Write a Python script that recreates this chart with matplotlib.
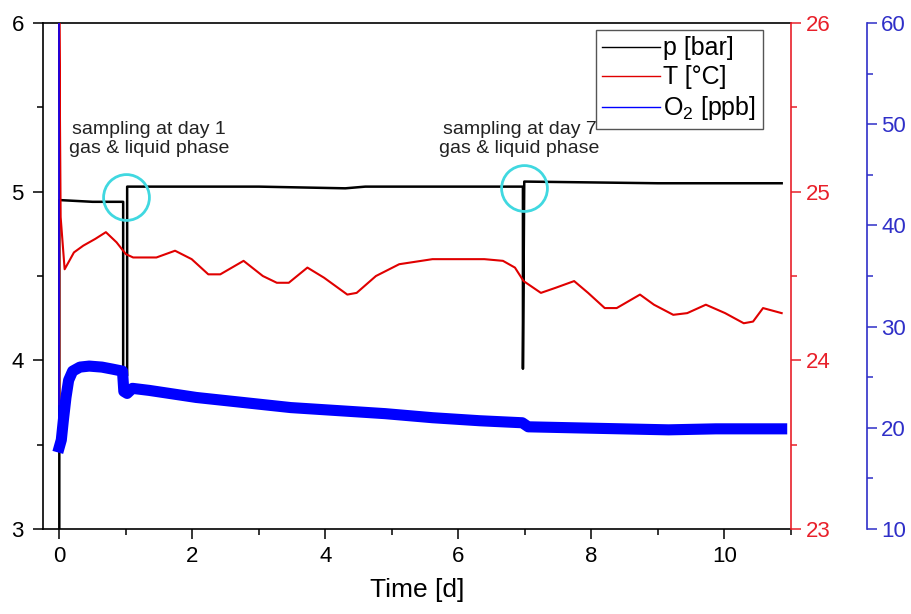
import matplotlib.pyplot as plt
from matplotlib.ticker import MultipleLocator

plt.rcParams['font.family'] = ['Liberation Sans', 'DejaVu Sans']
plt.rcParams['mathtext.default'] = 'regular'

# pressure [bar]
p_day = [0, 0, 0.02, 0.5, 0.96, 0.96, 1.02, 1.02, 3.0, 4.3, 4.6, 6.0, 6.97, 6.97, 6.99, 9.0, 10.86]
p_bar = [3.0, 4.95, 4.95, 4.94, 4.94, 3.91, 3.91, 5.03, 5.03, 5.02, 5.03, 5.03, 5.03, 3.95, 5.06, 5.05, 5.05]

# temperature [°C]
t_day = [0, 0, 0.02, 0.08, 0.22, 0.36, 0.54, 0.70, 0.86, 1.00, 1.11, 1.46, 1.74, 1.99, 2.24,
         2.42, 2.77, 3.06, 3.27, 3.45, 3.73, 3.98, 4.33, 4.47, 4.76, 5.11, 5.61, 6.04, 6.39, 6.67,
         6.85, 6.98, 7.24, 7.46, 7.74, 7.95, 8.20, 8.38, 8.73, 8.94, 9.23, 9.44, 9.72, 10.01, 10.29,
         10.43, 10.58, 10.86]
t_c = [23.74, 26.0, 24.85, 24.54, 24.64, 24.68, 24.72, 24.76, 24.70, 24.63, 24.61, 24.61, 24.65, 24.60, 24.51,
       24.51, 24.59, 24.50, 24.46, 24.46, 24.55, 24.49, 24.39, 24.40, 24.50, 24.57, 24.60, 24.60, 24.60, 24.59,
       24.55, 24.47, 24.40, 24.43, 24.47, 24.40, 24.31, 24.31, 24.39, 24.33, 24.27, 24.28, 24.33, 24.28, 24.22,
       24.23, 24.31, 24.28]

# dissolved oxygen [ppb]
o2_day = [0, 0, 0.03, 0.06, 0.10, 0.14, 0.20, 0.31, 0.45, 0.64, 0.80, 0.95, 0.97, 1.02, 1.10,
          1.35, 2.06, 2.77, 3.48, 4.19, 4.90, 5.61, 6.32, 6.96, 7.05, 7.74, 8.45, 9.16, 9.87, 10.86]
o2_ppb = [60, 18.1, 18.8, 20.7, 23.0, 24.7, 25.6, 26.0, 26.1, 26.0, 25.8, 25.6, 23.6, 23.4, 23.9,
          23.7, 23.0, 22.5, 22.0, 21.7, 21.4, 21.0, 20.7, 20.5, 20.1, 20.0, 19.9, 19.8, 19.9, 19.9]

# sampling events
sample_day = [1.0, 6.99]
sample_p = [4.97, 5.02]
note_day = [1.35, 6.92]
note_p = [5.31, 5.31]
notes = ["sampling at day 1\ngas & liquid phase", "sampling at day 7\ngas & liquid phase"]

RED = '#e8202a'
BLUE = '#2f2fc8'

fig = plt.figure(figsize=(9.12, 6.14), dpi=100)
ax = fig.add_axes([0.0468, 0.1384, 0.8205, 0.8241])
ax2 = ax.twinx()
ax3 = ax.twinx()

lp, = ax.plot(p_day, p_bar, color='black', lw=1.8, label='p [bar]')
ax.plot(sample_day, sample_p, 'o', ms=33, mfc='none', mec='#40d8e0', mew=2)
for d, p, s in zip(note_day, note_p, notes):
    ax.text(d, p, s, ha='center', va='center', fontsize=14, color='#222222', linespacing=1.15)

lt, = ax2.plot(t_day, t_c, color='#e00000', lw=1.5, label='T [°C]')

lo, = ax3.plot(o2_day[:2], o2_ppb[:2], color='#0000ff', lw=1.2, label='O$_2$ [ppb]')
ax3.plot(o2_day[1:], o2_ppb[1:], color='#0000ff', lw=8, solid_joinstyle='round')

ax.set_xlim(-0.25, 11.0)
ax.set_ylim(3, 6)
ax2.set_ylim(23, 26)
ax3.set_ylim(10, 60)

ax.xaxis.set_major_locator(MultipleLocator(2))
ax.xaxis.set_minor_locator(MultipleLocator(1))
ax.yaxis.set_major_locator(MultipleLocator(1))
ax.yaxis.set_minor_locator(MultipleLocator(0.5))
ax2.yaxis.set_major_locator(MultipleLocator(1))
ax2.yaxis.set_minor_locator(MultipleLocator(0.5))
ax3.yaxis.set_major_locator(MultipleLocator(10))
ax3.yaxis.set_minor_locator(MultipleLocator(5))

ax.spines['right'].set_visible(False)
for s in ['top', 'left', 'bottom']:
    ax2.spines[s].set_visible(False)
    ax3.spines[s].set_visible(False)
ax2.spines['right'].set_color(RED)
ax3.spines['right'].set_color(BLUE)
ax3.spines['right'].set_position(('axes', 1.101))
for a in (ax, ax2, ax3):
    for s in a.spines.values():
        s.set_linewidth(1.2)

ax.tick_params(which='major', direction='out', length=7.5, width=1.1, labelsize=16, pad=5)
ax.tick_params(which='minor', direction='out', length=4.5, width=1.1)
ax.tick_params(axis='y', which='major', pad=6)
ax2.tick_params(which='major', direction='out', length=7.5, width=1.1, labelsize=16, pad=3,
                color=RED, labelcolor=RED)
ax2.tick_params(which='minor', direction='out', length=4.5, width=1.1, color=RED)
ax3.tick_params(which='major', direction='out', length=7.5, width=1.1, labelsize=16, pad=3,
                color=BLUE, labelcolor=BLUE)
ax3.tick_params(which='minor', direction='out', length=4.5, width=1.1, color=BLUE)

ax.set_xlabel('Time [d]', fontsize=19, labelpad=8)

leg = ax3.legend(handles=[lp, lt, lo], loc='upper right', bbox_to_anchor=(0.962, 0.986),
                 borderaxespad=0, fontsize=18, handlelength=2.3, handletextpad=0.15,
                 labelspacing=0.2, borderpad=0.25, fancybox=False, framealpha=1)
leg.get_frame().set_edgecolor('#555555')
leg.get_frame().set_linewidth(1.0)
for h in leg.get_lines():
    h.set_linewidth(1.0)

fig.savefig('out.png', dpi=100)
